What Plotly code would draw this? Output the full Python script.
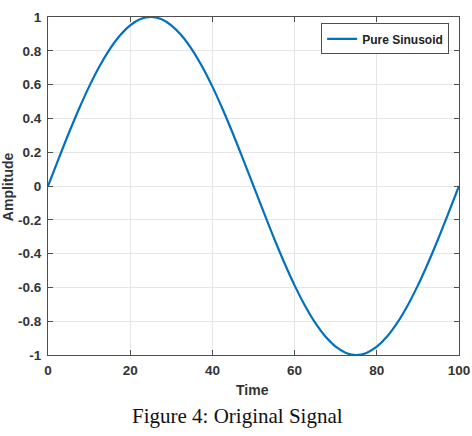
import plotly.graph_objects as go

time_vals = [0, 2.5, 5, 7.5, 10, 12.5, 15, 17.5, 20, 22.5, 25, 27.5, 30, 32.5, 35, 37.5, 40,
             42.5, 45, 47.5, 50, 52.5, 55, 57.5, 60, 62.5, 65, 67.5, 70, 72.5, 75, 77.5, 80,
             82.5, 85, 87.5, 90, 92.5, 95, 97.5, 100]
amplitude = [0.0, 0.156, 0.309, 0.454, 0.588, 0.707, 0.809, 0.891, 0.951, 0.988, 1.0,
             0.988, 0.951, 0.891, 0.809, 0.707, 0.588, 0.454, 0.309, 0.156, 0.0,
             -0.156, -0.309, -0.454, -0.588, -0.707, -0.809, -0.891, -0.951, -0.988, -1.0,
             -0.988, -0.951, -0.891, -0.809, -0.707, -0.588, -0.454, -0.309, -0.156, 0.0]
x_ticks = [0, 20, 40, 60, 80, 100]
y_ticks = [-1, -0.8, -0.6, -0.4, -0.2, 0, 0.2, 0.4, 0.6, 0.8, 1]
y_labels = ["-1", "-0.8", "-0.6", "-0.4", "-0.2", "0", "0.2", "0.4", "0.6", "0.8", "1"]

SANS = "Liberation Sans, Arial"
fig = go.Figure()
fig.add_trace(go.Scatter(x=time_vals, y=amplitude, mode="lines", name="Pure Sinusoid",
                         line=dict(color="#0072BD", width=2.2, shape="spline")))

axis_common = dict(showgrid=True, gridcolor="#e6e6e6", gridwidth=1, automargin=False,
                   showline=True, linecolor="#4f4f4f", linewidth=1, mirror="allticks",
                   ticks="inside", ticklen=5, tickcolor="#4f4f4f", zeroline=False,
                   tickfont=dict(family=SANS, size=13.5, color="#333333", weight="bold"))

fig.update_layout(
    width=472, height=436,
    margin=dict(l=48, r=13, t=17, b=81),
    paper_bgcolor="white", plot_bgcolor="white",
    xaxis=dict(range=[0, 100], tickvals=x_ticks, ticklabelstandoff=3, **axis_common),
    yaxis=dict(range=[-1, 1], tickvals=y_ticks, ticktext=y_labels, ticklabelstandoff=3, **axis_common),
    showlegend=True,
    legend=dict(x=0.976, y=0.981, xanchor="right", yanchor="top",
                bgcolor="white", bordercolor="#4f4f4f", borderwidth=1,
                font=dict(family=SANS, size=12, color="#222222", weight="bold"),
                itemwidth=30, tracegroupgap=0),
)
fig.add_annotation(text="Time", xref="paper", yref="paper", x=0.497, y=-0.104,
                   xanchor="center", yanchor="middle", showarrow=False,
                   font=dict(family=SANS, size=14, color="#333333", weight="bold"))
fig.add_annotation(text="Amplitude", xref="paper", yref="paper", x=-0.097, y=0.497, textangle=-90,
                   xanchor="center", yanchor="middle", showarrow=False,
                   font=dict(family=SANS, size=14, color="#333333", weight="bold"))
fig.add_annotation(text="Figure 4: Original Signal", xref="paper", yref="paper",
                   x=0.462, y=-0.18, xanchor="center", yanchor="middle", showarrow=False,
                   font=dict(family="Liberation Serif, serif", size=21, color="#111111"))

fig.write_html("out.html")
